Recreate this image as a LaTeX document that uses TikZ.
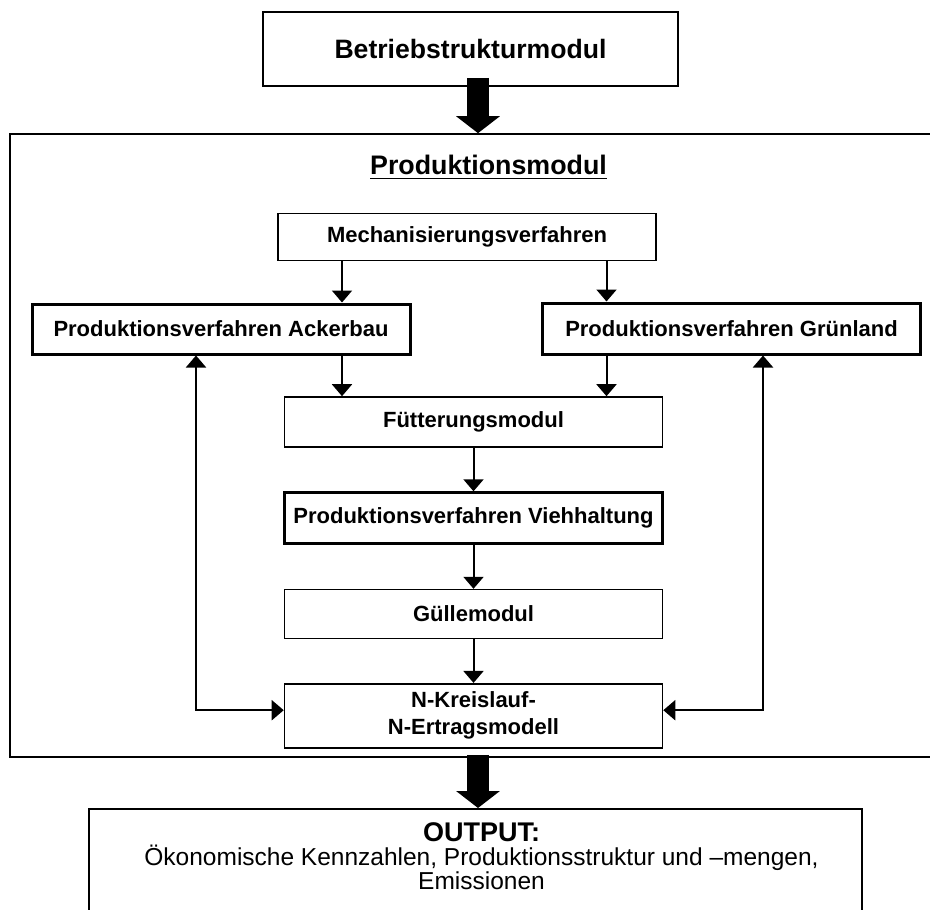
\documentclass[tikz,border=0pt]{standalone}
\usepackage{fontspec}
\setmainfont{Liberation Sans}
\usetikzlibrary{positioning,arrows.meta}

\begin{document}
\begin{tikzpicture}[
    x=0.5pt, y=-0.5pt,
    node distance=21.75pt,
    box/.style={rectangle, draw, line width=0.8pt, minimum width=189pt, minimum height=24.5pt, inner sep=0pt, align=center, font=\fontsize{11}{13.5}\selectfont\bfseries},
    thickbox/.style={box, line width=1.5pt},
    arrow/.style={->, >={Triangle[width=10pt,length=6pt]}, line width=1pt},
    fat/.style={->, >={Triangle[width=21.5pt,length=8.5pt]}, line width=11pt}
]
    \useasboundingbox (0,0) rectangle (930,909);
    \clip (0,0) rectangle (930,909);

    \node[box, minimum width=207.5pt, minimum height=37pt, font=\fontsize{13.3}{16}\selectfont\bfseries] (n0) at (470.5,49) {Betriebstrukturmodul};
    \node[box, minimum width=462pt, minimum height=311.5pt] (pm) at (472,445.5) {};
    \node[anchor=base, inner sep=0pt, font=\fontsize{13.4}{16}\selectfont\bfseries] (pt) at (488.5,175) {\underline{Produktionsmodul}};

    \node[box, minimum height=23.5pt] (n1) at (467,237) {Mechanisierungsverfahren};
    \node[thickbox, minimum height=25pt] (n2) at (221,329) {Produktionsverfahren Ackerbau};
    \node[thickbox, minimum height=25.5pt] (n3) at (731.5,328.5) {Produktionsverfahren Grünland};
    \node[box, minimum height=25pt] (n4) at (473.5,422) {Fütterungsmodul};
    \node[thickbox, minimum height=25.5pt, below=of n4] (n5) {Produktionsverfahren Viehhaltung};
    \node[box, below=of n5] (n6) {Güllemodul};
    \node[box, minimum height=32pt, below=of n6] (n7) {N-Kreislauf-\\N-Ertragsmodell};

    \node[draw, line width=0.8pt, minimum width=386.5pt, minimum height=60pt, anchor=north] (n8) at (475.5,808) {};
    \node[below=7pt of n8.north, xshift=3pt, inner sep=0pt, align=center, font=\fontsize{12.25}{12}\selectfont] (n9) {{\bfseries\fontsize{13.5}{12.5}\selectfont OUTPUT:}\\Ökonomische Kennzahlen, Produktionsstruktur und \textendash{}mengen,\\Emissionen};

    \coordinate (a1) at ([xshift=60.5pt]n2.north);
    \coordinate (g1) at ([xshift=-62.5pt]n3.north);
    \coordinate (a2) at ([xshift=-12.5pt]n2.south);
    \coordinate (g2) at ([xshift=15.75pt]n3.south);

    \draw[fat] ([xshift=3.75pt,yshift=4.5pt]n0.south) -- ([xshift=3.75pt]n0.south |- pm.north);
    \draw[arrow] (n1.south -| a1) -- (a1);
    \draw[arrow] (n1.south -| g1) -- (g1);
    \draw[arrow] (a1 |- n2.south) -- (a1 |- n4.north);
    \draw[arrow] (g1 |- n3.south) -- (g1 |- n4.north);
    \draw[arrow] (n4) -- (n5);
    \draw[arrow] (n5) -- (n6);
    \draw[arrow] (n6) -- (n7);
    \draw[arrow, <->] (a2) |- ([yshift=2.75pt]n7.west);
    \draw[arrow, <->] (g2) |- ([yshift=2.75pt]n7.east);
    \draw[fat] ([xshift=3pt,yshift=1.5pt]pm.south) -- ([xshift=3pt]pm.south |- n8.north);
\end{tikzpicture}
\end{document}
